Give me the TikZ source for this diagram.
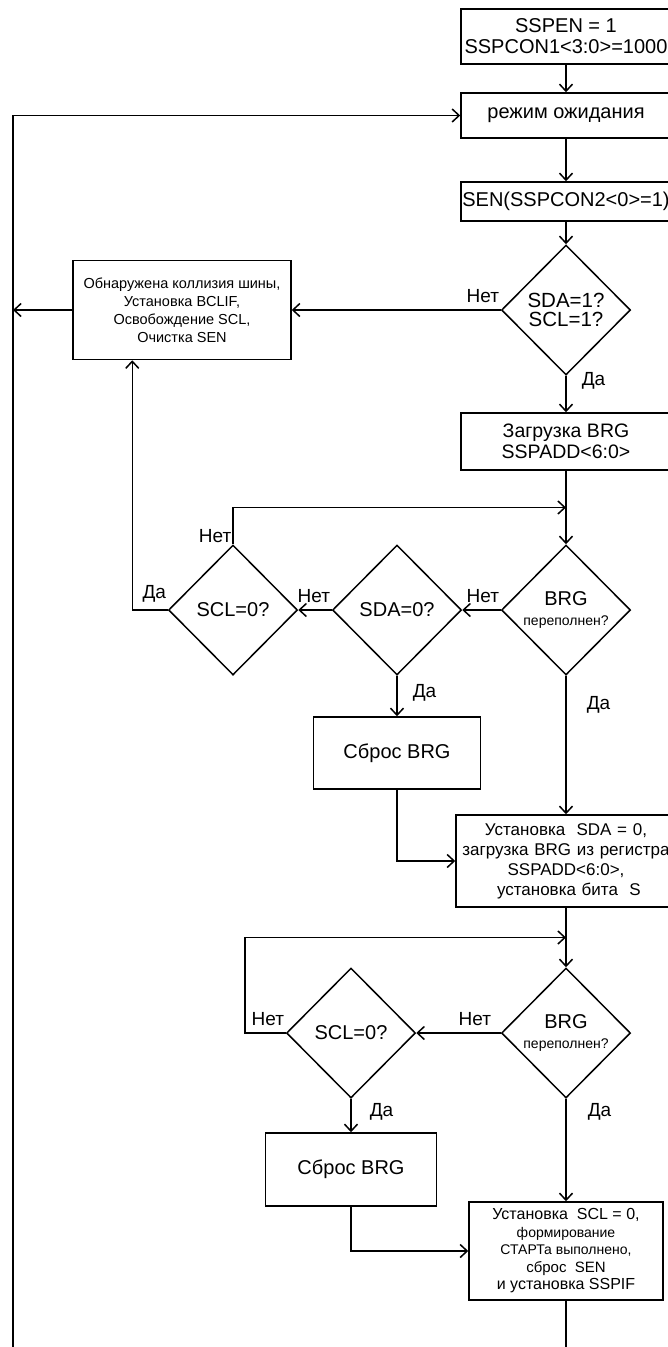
\documentclass[tikz,border=0pt]{standalone}
\usepackage{fontspec}
\setmainfont{Liberation Sans}
\usetikzlibrary{positioning, shapes.geometric, arrows.meta, calc}

\tikzset{
  block/.style={draw, rectangle, align=center, inner sep=0pt},
  decision/.style={draw, diamond, align=center, inner sep=0pt,
    minimum width=129pt, minimum height=130pt},
  lab/.style={font=\fontsize{19}{19}\selectfont, inner sep=1pt},
  no/.style={lab, above left, yshift=6pt}
}

\begin{document}
\begin{tikzpicture}[x=1pt, y=1pt, node distance=100pt, on grid, line width=1.5pt,
    >={Straight Barb[length=7pt, width=13pt]}]
    \useasboundingbox (0,0) rectangle (667,-1347);

    % main column
    \node[block, minimum width=210pt, minimum height=55pt, font=\fontsize{20}{21}\selectfont] (init) at (566,-36.5) {SSPEN = 1\\SSPCON1<3:0>=1000};
    \node[block, minimum width=210pt, minimum height=45pt, font=\fontsize{20}{21}\selectfont] (wait) [below=79pt of init] {режим ожидания};
    \node[block, minimum width=210pt, minimum height=39pt, font=\fontsize{20}{21}\selectfont] (sen) [below=86pt of wait] {SEN(SSPCON2<0>=1)};
    \node[decision, font=\fontsize{20.5}{19}\selectfont] (chk1) [below=108.5pt of sen] {SDA=1?\\SCL=1?};
    \node[block, minimum width=210pt, minimum height=57pt, font=\fontsize{19.5}{21}\selectfont] (load) [below=131.5pt of chk1] {Загрузка BRG\\SSPADD<6:0>};
    \node[decision, font=\fontsize{20}{20}\selectfont] (ovf1) [below=168.5pt of load] {BRG\\{\fontsize{14}{16}\selectfont переполнен?}};
    \node[block, text width=220pt, minimum height=92pt, font=\fontsize{17}{20}\selectfont] (setsda) [below=251pt of ovf1] {Установка~ SDA = 0,\\загрузка BRG из регистра\\SSPADD<6:0>,\\~установка бита~ S};
    \node[decision, font=\fontsize{20}{20}\selectfont] (ovf2) [below=172pt of setsda] {BRG\\{\fontsize{14}{16}\selectfont переполнен?}};
    \node[block, minimum width=194pt, minimum height=98pt, font=\fontsize{16}{17.5}\selectfont] (done) [below=218pt of ovf2] {Установка~ SCL = 0,\\{\fontsize{14}{17.5}\selectfont формирование}\\{\fontsize{14}{17.5}\selectfont СТАРТа выполнено,}\\{\fontsize{15}{17.5}\selectfont сброс~ SEN}\\и установка SSPIF};

    % side branches
    \node[block, minimum width=218pt, minimum height=99pt, font=\fontsize{14.5}{18}\selectfont] (coll) [left=384pt of chk1] {Обнаружена коллизия шины,\\Установка BCLIF,\\Освобождение SCL,\\Очистка SEN};
    \node[decision, font=\fontsize{20}{19}\selectfont] (sda0) [left=169pt of ovf1] {SDA=0?};
    \node[decision, font=\fontsize{20}{19}\selectfont] (scl0) [left=164pt of sda0] {SCL=0?};
    \node[block, minimum width=167pt, minimum height=72pt, font=\fontsize{20}{20}\selectfont] (rst1) [below=143pt of sda0] {Сброс BRG};
    \node[decision, font=\fontsize{20}{19}\selectfont] (scl2) [left=215pt of ovf2] {SCL=0?};
    \node[block, minimum width=171pt, minimum height=73pt, font=\fontsize{20}{20}\selectfont] (rst2) [below=136.5pt of scl2] {Сброс BRG};

    \coordinate (j1) at ($(load.south)!0.5!(ovf1.north)$);
    \coordinate (j2) at ($(setsda.south)!0.5!(ovf2.north)$);
    \coordinate (lft) at (13,-1350);

    \path[->]
        (init) edge (wait)
        (wait) edge (sen)
        (sen) edge (chk1)
        (chk1.west) edge node[no, pos=0] {Нет} (coll.east)
        (chk1.south) edge node[lab, right=14pt, pos=0.13] {Да} (load.north)
        (ovf1.west) edge node[no, pos=0] {Нет} (sda0.east)
        (ovf1.south) edge node[lab, right=19pt, pos=0.21] {Да} (setsda.north)
        (sda0.west) edge node[no, pos=0] {Нет} (scl0.east)
        (sda0.south) edge node[lab, right=14pt, pos=0.43] {Да} (rst1.north)
        (ovf2.west) edge node[no, xshift=-8pt, pos=0] {Нет} (scl2.east)
        (ovf2.south) edge node[lab, right=20pt, pos=0.13] {Да} (done.north)
        (scl2.south) edge node[lab, right=17pt, pos=0.4] {Да} (rst2.north);

    \draw[->] (load) -- (ovf1);
    \draw[->] (setsda) -- (ovf2);
    \draw[->] (scl0.north) |- node[lab, above left, pos=0] {Нет} (j1);
    \draw[->] (scl0.west) -| node[no, pos=0] {Да} ([xshift=60pt]coll.south west);
    \draw[->] (scl2.west) -- node[no, pos=0] {Нет} ++(-41,0) |- (j2);
    \draw[->] (rst1.south) |- (setsda.west);
    \draw[->] (rst2.south) |- (done.west);
    \draw[->] (coll.west) -- (coll.west -| lft);
    \draw[->] (lft) |- (wait.west);
    \draw (done.south) -- (done.south |- lft);
\end{tikzpicture}
\end{document}
